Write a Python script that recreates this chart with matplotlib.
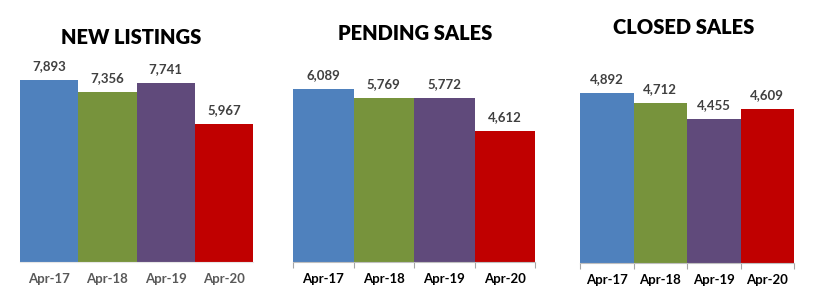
import matplotlib
matplotlib.use("Agg")
import matplotlib.pyplot as plt

plt.rcParams["font.family"] = ["Lato", "DejaVu Sans"]

months = ["Apr-17", "Apr-18", "Apr-19", "Apr-20"]
new_listings = [7893, 7356, 7741, 5967]
pending_sales = [6089, 5769, 5772, 4612]
closed_sales = [4892, 4712, 4455, 4609]
bar_colors = ["#4F81BD", "#77933C", "#604A7B", "#C00000"]

W, H = 826, 300
fig = plt.figure(figsize=(W / 100, H / 100), dpi=100)


def panel(x0, x1, base, top, ymin, ymax, title, title_xy, values, label_color, ticks):
    ax = fig.add_axes([x0 / W, (H - base) / H, (x1 - x0) / W, (base - top) / H])
    xs = range(len(values))
    ax.bar(xs, values, width=1.0, color=bar_colors)
    ax.set_xlim(-0.5, len(values) - 0.5)
    ax.set_ylim(ymin, ymax)
    for s in ["top", "left", "right"]:
        ax.spines[s].set_visible(False)
    ax.spines["bottom"].set_color("#BFBFBF" if ticks else "#E6E6E6")
    ax.set_yticks([])
    ax.set_xticks(list(xs))
    ax.set_xticklabels(months, fontsize=9.5, fontweight="bold", color=label_color)
    ax.tick_params(axis="x", which="major", length=0, pad=8)
    if ticks:
        ax.set_xticks([i - 0.5 for i in range(len(values) + 1)], minor=True)
        ax.tick_params(axis="x", which="minor", length=4, color="#A6A6A6", width=0.8)
    for i, v in enumerate(values):
        ax.annotate(f"{v:,}", (i, v), xytext=(0, 10), textcoords="offset points",
                    ha="center", va="center", fontsize=9.5, fontweight="bold",
                    color="#404040")
    fig.text(title_xy[0] / W, 1 - title_xy[1] / H, title, ha="center", va="center",
             fontsize=14.5, fontweight="heavy", color="#000000")


panel(20, 253, 262, 52, 0, 9100, "NEW LISTINGS", (131, 37), new_listings, "#595959", False)
panel(293, 535, 262, 63, 0, 7000, "PENDING SALES", (415, 33), pending_sales, "#000000", True)
panel(580, 794, 263, 57, 2000, 5500, "CLOSED SALES", (684, 27), closed_sales, "#000000", True)

fig.savefig("out.png", dpi=100)
